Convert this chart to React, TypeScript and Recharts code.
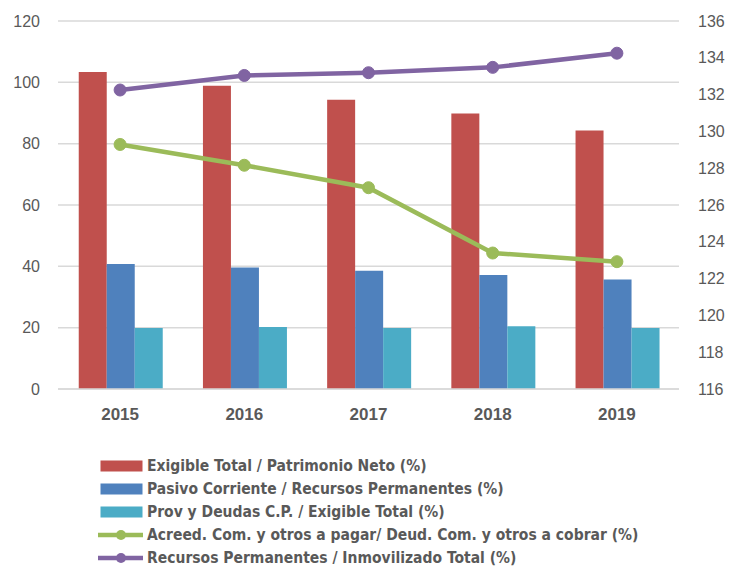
import React from "react";
import {
  ComposedChart,
  Bar,
  Line,
  XAxis,
  YAxis,
  CartesianGrid,
  Legend,
} from "recharts";

const years = ["2015", "2016", "2017", "2018", "2019"];
const exigiblePatrimonio = [103.4, 98.9, 94.3, 89.8, 84.3];
const pasivoRecursos = [40.8, 39.6, 38.6, 37.2, 35.7];
const provExigible = [19.9, 20.2, 19.9, 20.5, 19.9];
const acreedDeud = [129.29, 128.16, 126.94, 123.39, 122.92];
const recursosInmov = [132.25, 133.04, 133.19, 133.48, 134.25];

const leftTicks = [0, 20, 40, 60, 80, 100, 120];
const rightTicks = [116, 118, 120, 122, 124, 126, 128, 130, 132, 134, 136];

const seriesNames = {
  a: "Exigible Total / Patrimonio Neto (%)",
  b: "Pasivo Corriente / Recursos Permanentes (%)",
  c: "Prov y Deudas C.P. / Exigible Total (%)",
  d: "Acreed. Com. y otros a pagar/ Deud. Com. y otros a cobrar (%)",
  e: "Recursos Permanentes / Inmovilizado Total (%)",
};

const COLORS = {
  a: "#C0504D",
  b: "#4F81BD",
  c: "#4BACC6",
  d: "#9BBB59",
  e: "#8064A2",
};

const data = years.map((y, i) => ({
  year: y,
  a: exigiblePatrimonio[i],
  b: pasivoRecursos[i],
  c: provExigible[i],
  d: acreedDeud[i],
  e: recursosInmov[i],
}));

const legendItems: { key: keyof typeof COLORS; type: "rect" | "line" }[] = [
  { key: "a", type: "rect" },
  { key: "b", type: "rect" },
  { key: "c", type: "rect" },
  { key: "d", type: "line" },
  { key: "e", type: "line" },
];

const TEXT = "#595959";
const TICK_FONT = "'Liberation Sans', Arial, sans-serif";
const LEGEND_FONT = "'Liberation Sans Narrow', 'DejaVu Sans Condensed', 'Liberation Sans', Arial, sans-serif";

const renderLegend = () => (
  <div
    style={{
      height: 130,
      boxSizing: "border-box",
      paddingTop: 17,
      paddingLeft: 98,
      textAlign: "left",
      fontFamily: LEGEND_FONT,
      fontWeight: 700,
      fontSize: 15.5,
      color: TEXT,
    }}
  >
    {legendItems.map((it) => (
      <div
        key={it.key}
        style={{ height: 23, display: "flex", alignItems: "center", whiteSpace: "nowrap" }}
      >
        <svg width={45} height={14} style={{ marginRight: 4, flex: "none" }}>
          {it.type === "rect" ? (
            <rect x={2.5} y={1.5} width={42} height={11} fill={COLORS[it.key]} />
          ) : (
            <>
              <line x1={0} y1={7} x2={45} y2={7} stroke={COLORS[it.key]} strokeWidth={4.5} />
              <circle cx={23} cy={7} r={5} fill={COLORS[it.key]} />
            </>
          )}
        </svg>
        <span>{seriesNames[it.key]}</span>
      </div>
    ))}
  </div>
);

export default function App() {
  return (
    <div style={{ position: "absolute", left: 0, top: 0, background: "#fff" }}>
      <ComposedChart
        width={729}
        height={567}
        data={data}
        margin={{ top: 21, right: 0, bottom: 0, left: 0 }}
        barCategoryGap="16.7%"
        barGap={0}
      >
        <CartesianGrid
          yAxisId="left"
          vertical={false}
          stroke="#D9D9D9"
          strokeWidth={1.5}
        />
        <XAxis
          dataKey="year"
          height={48}
          axisLine={{ stroke: "#D9D9D9", strokeWidth: 1.5 }}
          tickLine={false}
          tickMargin={13}
          tick={{ fill: TEXT, fontSize: 17, fontWeight: 700, fontFamily: TICK_FONT }}
        />
        <YAxis
          yAxisId="left"
          orientation="left"
          width={58}
          domain={[0, 120]}
          ticks={leftTicks}
          axisLine={false}
          tickLine={false}
          tickMargin={12}
          tick={{ fill: TEXT, fontSize: 16, fontFamily: TICK_FONT }}
        />
        <YAxis
          yAxisId="right"
          orientation="right"
          width={50}
          domain={[116, 136]}
          ticks={rightTicks}
          axisLine={false}
          tickLine={false}
          tickMargin={13}
          tick={{ fill: TEXT, fontSize: 16, fontFamily: TICK_FONT }}
        />
        <Legend content={renderLegend} verticalAlign="bottom" height={130} />
        <Bar yAxisId="left" dataKey="a" name={seriesNames.a} fill={COLORS.a} isAnimationActive={false} />
        <Bar yAxisId="left" dataKey="b" name={seriesNames.b} fill={COLORS.b} isAnimationActive={false} />
        <Bar yAxisId="left" dataKey="c" name={seriesNames.c} fill={COLORS.c} isAnimationActive={false} />
        <Line
          yAxisId="right"
          dataKey="d"
          name={seriesNames.d}
          stroke={COLORS.d}
          strokeWidth={4.5}
          dot={{ r: 6, fill: COLORS.d, stroke: COLORS.d, strokeWidth: 1 }}
          isAnimationActive={false}
        />
        <Line
          yAxisId="right"
          dataKey="e"
          name={seriesNames.e}
          stroke={COLORS.e}
          strokeWidth={4.5}
          dot={{ r: 6, fill: COLORS.e, stroke: COLORS.e, strokeWidth: 1 }}
          isAnimationActive={false}
        />
      </ComposedChart>
    </div>
  );
}
